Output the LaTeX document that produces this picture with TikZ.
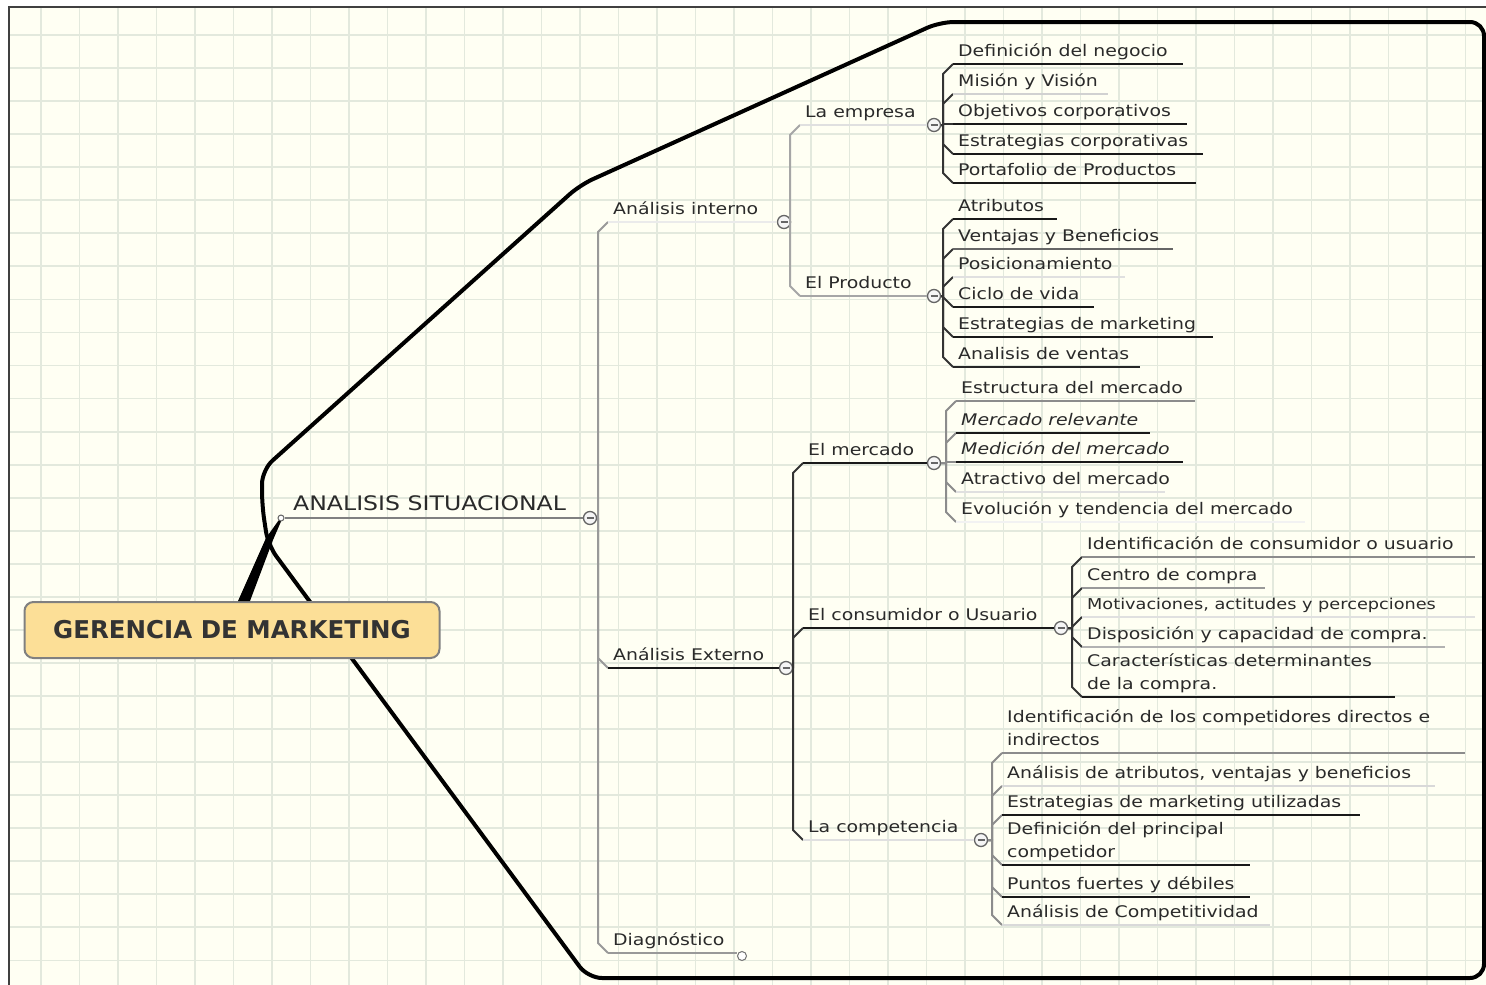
\documentclass[tikz,border=0pt]{standalone}
\usepackage{fontspec}
\setmainfont{DejaVu Sans}[FakeStretch=1.18]
\newfontfamily\rootfont{DejaVu Sans}
\definecolor{cream}{HTML}{FFFFF3}
\definecolor{gridc}{HTML}{E3E9DD}
\definecolor{rootfill}{HTML}{FCDF97}
\definecolor{txtc}{HTML}{2A2A2A}
\tikzset{
  txt/.style={inner sep=0pt, text=txtc, font=\fontsize{16}{23}\selectfont},
  ul/.style={line width=2.5pt},
  sp/.style={line width=2pt, draw=#1, line join=round},
  coll/.style={circle, draw=black!60, fill=black!4, line width=1.3pt, inner sep=0pt, minimum size=13pt},
  bnd/.style={line width=4pt, draw=black, rounded corners=14pt, line join=round},
}
% #1 name, #2 parent node, #3 parent y, #4 spine x, #5 underline y, #6 underline end x,
% #7 spine colour, #8 underline colour, #9 text
\newcommand\Leaf[9]{%
  \pgfmathsetmacro\lfd{ifthenelse(abs(#5-#3)<3,0,ifthenelse(#5<#3,10,-10))}%
  \coordinate (#1-s) at ({#4+10},#5);
  \coordinate (#1-e) at (#6,#5);
  \node[txt,anchor=base west] (#1) at ({#4+15},{#5-8}) {#9};
  \draw[sp=#7] (#2) -- (#4,#3) -- (#4,{#5+\lfd}) -- (#1-s);
  \draw[ul,draw=#8] (#1-s) -- (#1-e);
}
\newcommand\Minus[1]{\draw[black!60,line width=1.2pt] ([xshift=-3.5pt]#1.center) -- ([xshift=3.5pt]#1.center);}
\begin{document}
\begin{tikzpicture}[x=1pt,y=-1pt]
\useasboundingbox (0,0) rectangle (1486,985);
\fill[white] (0,0) rectangle (1486,985);
\fill[cream] (9,7) rectangle (1486,985);
\foreach \i in {0,...,37} {\draw[gridc,line width=1.8pt] ({41+38.5*\i},8) -- ({41+38.5*\i},985);}
\foreach \j in {0,...,28} {\draw[gridc,line width=1.8pt] (10,{35+33.05*\j}) -- (1486,{35+33.05*\j});}
\draw[black!75,line width=2pt] (9,985) -- (9,7) -- (1486,7);

% boundary
\draw[bnd] (268,545) -- (262,505) -- (262,470) -- (580,185) -- (940,22) -- (1484,22) -- (1484,978) -- (588,978) -- cycle;

% root
\node[draw=black!50, fill=rootfill, line width=2pt, rounded corners=9pt, minimum width=415pt, minimum height=56pt,
      inner sep=0pt, text=black!80, font=\rootfont\bfseries\fontsize{24.5}{26}\selectfont] (root) at (232,630) {GERENCIA DE MARKETING};

% ANALISIS SITUACIONAL
\node[circle, draw=black!60, fill=white, line width=1pt, inner sep=0pt, minimum size=6pt] (ass) at (281,518) {};
\coordinate (rb1) at (266,538);
\coordinate (rb2) at (273,540);
\fill[black] ([xshift=6pt]root.north) -- ([xshift=18pt]root.north) -- (rb2) -- (ass.south) -- (ass.south west) -- (rb1) -- cycle;
\node[txt, anchor=base west, font=\fontsize{20}{24}\selectfont] (as) at (293,510) {ANALISIS SITUACIONAL};
\node[coll] (asc) at (590,518) {};
\draw[ul,draw=black!50] (ass) -- (asc);
\Minus{asc}

% level 2
\node[coll] (aic) at (784,222) {}; \Minus{aic}
\node[coll] (aec) at (786,668) {}; \Minus{aec}
\node[circle, draw=black!55, fill=white, line width=1pt, inner sep=0pt, minimum size=9pt] (dgc) at (742,956) {};
\Leaf{ai}{asc}{518}{598}{222}{776}{black!40}{black!8}{Análisis interno}
\Leaf{ae}{asc}{518}{598}{668}{779}{black!40}{black!90}{Análisis Externo}
\Leaf{dg}{asc}{518}{598}{953}{737}{black!40}{black!40}{Diagnóstico}

% level 3 under interno
\node[coll] (emc) at (934,125) {}; \Minus{emc}
\node[coll] (prc) at (934,296) {}; \Minus{prc}
\Leaf{em}{aic}{222}{790}{125}{927}{black!35}{black!12}{La empresa}
\Leaf{pr}{aic}{222}{790}{296}{927}{black!35}{black!35}{El Producto}

% level 3 under externo
\node[coll] (mec) at (934,463) {}; \Minus{mec}
\node[coll] (cuc) at (1061,628) {}; \Minus{cuc}
\node[coll] (coc) at (981,840) {}; \Minus{coc}
\Leaf{me}{aec}{668}{793}{463}{927}{black!80}{black!90}{El mercado}
\Leaf{cu}{aec}{668}{793}{628}{1054}{black!80}{black!90}{El consumidor o Usuario}
\Leaf{co}{aec}{668}{793}{840}{974}{black!80}{black!12}{La competencia}

% La empresa
\Leaf{e1}{emc}{125}{943}{64}{1183}{black!80}{black!90}{Definición del negocio}
\Leaf{e2}{emc}{125}{943}{94}{1108}{black!80}{black!18}{Misión y Visión}
\Leaf{e3}{emc}{125}{943}{124}{1187}{black!80}{black!90}{Objetivos corporativos}
\Leaf{e4}{emc}{125}{943}{154}{1203}{black!80}{black!90}{Estrategias corporativas}
\Leaf{e5}{emc}{125}{943}{183}{1196}{black!80}{black!90}{Portafolio de Productos}

% El Producto
\Leaf{p1}{prc}{296}{943}{219}{1057}{black!80}{black!90}{Atributos}
\Leaf{p2}{prc}{296}{943}{249}{1173}{black!80}{black!60}{Ventajas y Beneficios}
\Leaf{p3}{prc}{296}{943}{277}{1125}{black!80}{black!12}{Posicionamiento}
\Leaf{p4}{prc}{296}{943}{307}{1094}{black!80}{black!90}{Ciclo de vida}
\Leaf{p5}{prc}{296}{943}{337}{1213}{black!80}{black!90}{Estrategias de marketing}
\Leaf{p6}{prc}{296}{943}{367}{1140}{black!80}{black!85}{Analisis de ventas}

% El mercado
\Leaf{m1}{mec}{463}{946}{401}{1195}{black!45}{black!45}{Estructura del mercado}
\Leaf{m2}{mec}{463}{946}{433}{1150}{black!45}{black!90}{\itshape Mercado relevante}
\Leaf{m3}{mec}{463}{946}{462}{1183}{black!45}{black!90}{\itshape Medición del mercado}
\Leaf{m4}{mec}{463}{946}{492}{1165}{black!45}{black!12}{Atractivo del mercado}
\Leaf{m5}{mec}{463}{946}{522}{1305}{black!45}{black!5}{Evolución y tendencia del mercado}

% El consumidor
\Leaf{c1}{cuc}{628}{1072}{557}{1475}{black!80}{black!45}{Identificación de consumidor o usuario}
\Leaf{c2}{cuc}{628}{1072}{588}{1265}{black!80}{black!40}{Centro de compra}
\Leaf{c3}{cuc}{628}{1072}{617}{1475}{black!80}{black!12}{\fontsize{15}{22}\selectfont Motivaciones, actitudes y percepciones}
\Leaf{c4}{cuc}{628}{1072}{647}{1445}{black!80}{black!30}{Disposición y capacidad de compra.}
\Leaf{c5}{cuc}{628}{1072}{697}{1395}{black!80}{black!90}{\begin{tabular}[b]{@{}l@{}}Características determinantes\\de la compra.\end{tabular}}

% La competencia
\Leaf{k1}{coc}{840}{992}{753}{1465}{black!45}{black!45}{\begin{tabular}[b]{@{}l@{}}Identificación de los competidores directos e\\indirectos\end{tabular}}
\Leaf{k2}{coc}{840}{992}{786}{1435}{black!45}{black!15}{Análisis de atributos, ventajas y beneficios}
\Leaf{k3}{coc}{840}{992}{815}{1360}{black!45}{black!90}{Estrategias de marketing utilizadas}
\Leaf{k4}{coc}{840}{992}{865}{1250}{black!45}{black!90}{\begin{tabular}[b]{@{}l@{}}Definición del principal\\competidor\end{tabular}}
\Leaf{k5}{coc}{840}{992}{897}{1250}{black!45}{black!90}{Puntos fuertes y débiles}
\Leaf{k6}{coc}{840}{992}{925}{1270}{black!45}{black!15}{Análisis de Competitividad}
\end{tikzpicture}
\end{document}
